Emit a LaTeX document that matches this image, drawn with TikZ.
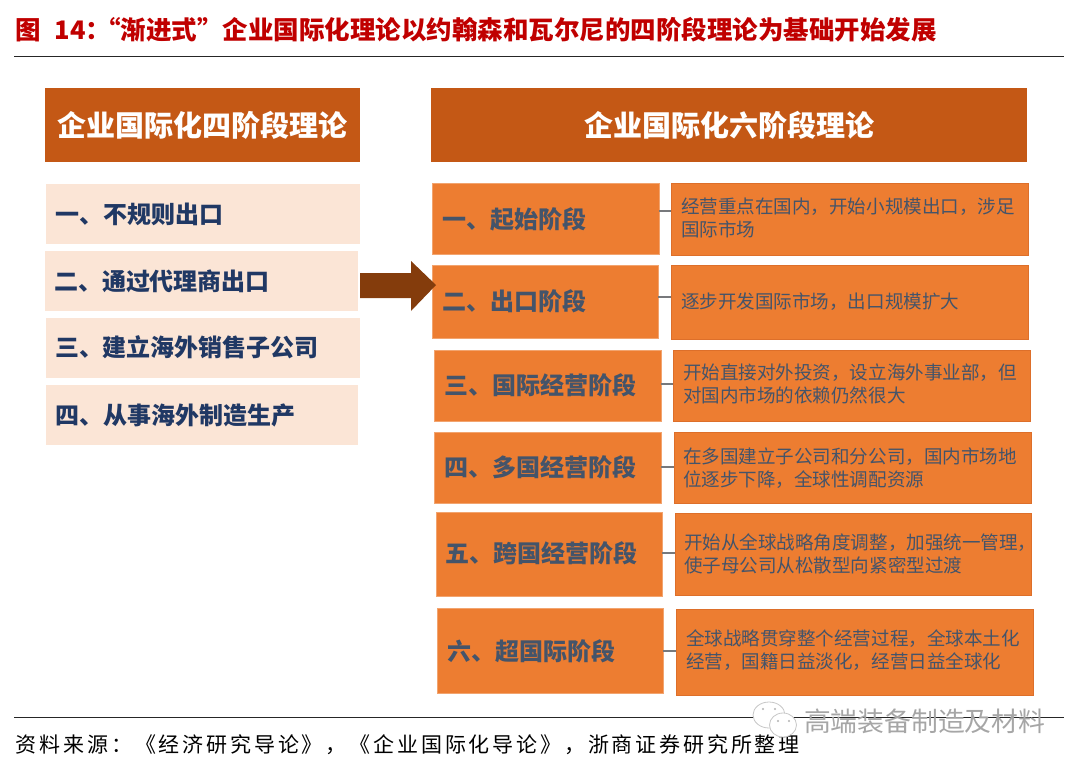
\documentclass[tikz,border=0pt]{standalone}
\usepackage{fontspec}
\setmainfont{Noto Sans CJK SC}
\newfontfamily\srcfont[LetterSpace=13.5]{Noto Sans CJK SC}
\definecolor{hdr}{HTML}{C45815}
\definecolor{stg}{HTML}{ED7D31}
\definecolor{edg}{HTML}{DD6F2A}
\definecolor{pale}{HTML}{FBE5D6}
\definecolor{navy}{HTML}{203864}
\definecolor{slate}{HTML}{44546A}
\definecolor{arrowc}{HTML}{843C0C}
\definecolor{ttl}{HTML}{C00000}
\newcommand{\fs}[1]{\fontsize{#1}{#1}\selectfont}
\newcommand{\bx}[7]{\node[#6,minimum width=#4-#2,minimum height=#5-#3] (#1) at ({(#2+#4)/2},{(#3+#5)/2}) {#7};}
\tikzset{
  x=1pt,y=-1pt,
  every node/.style={inner sep=0pt,outer sep=0pt},
  header/.style={fill=hdr,text=white,font=\fs{29}\bfseries},
  item/.style={fill=pale},
  stage/.style={fill=stg,draw=stg!70!white,line width=0.8pt},
  descbox/.style={fill=stg,draw=edg,line width=1pt},
  itemtext/.style={anchor=west,text=navy,font=\fs{24}\bfseries},
  stagetext/.style={anchor=west,text=slate,font=\fs{24}\bfseries},
  desctext/.style={anchor=west,align=left,text=slate,font=\fs{18.55}\selectfont},
  rulee/.style={draw=black!85,line width=1pt},
  link/.style={draw=gray!85!slate,line width=1.4pt},
  bubble/.style={draw=black!22,fill=white,line width=0.8pt},
}
\begin{document}
\begin{tikzpicture}
\useasboundingbox (0,0) rectangle (1080,769);
\node[anchor=west,text=ttl,font=\fs{25.5}\bfseries] (title) at (16,30) {图\hspace{13pt}14：\hspace{-16pt}“渐进式”企业国际化理论以约翰森和瓦尔尼的四阶段理论为基础开始发展};
\coordinate (r1a) at (14,56); \coordinate (r1b) at (1064,56);
\draw[rulee] (r1a) -- (r1b);
\bx{lh}{45}{88}{360}{162}{header}{企业国际化四阶段理论}
\bx{rh}{431}{88}{1027}{162}{header}{企业国际化六阶段理论}
\bx{i1}{46}{184}{360}{244}{item}{}
\bx{i2}{45}{251}{358}{311}{item}{}
\bx{i3}{46}{318}{360}{378}{item}{}
\bx{i4}{46}{385}{358}{445}{item}{}
\node[itemtext] (it1) at (56,214) {一、不规则出口};
\node[itemtext] (it2) at (54,281) {二、通过代理商出口};
\node[itemtext] (it3) at (55,347) {三、建立海外销售子公司};
\node[itemtext] (it4) at (56,415) {四、从事海外制造生产};
\bx{s1}{432}{183}{659}{254}{stage}{}
\bx{s2}{432}{265}{658}{338}{stage}{}
\bx{s3}{434}{350}{661}{421}{stage}{}
\bx{s4}{434}{432}{661}{503}{stage}{}
\bx{s5}{436}{512}{662}{596}{stage}{}
\bx{s6}{437}{608}{663}{693}{stage}{}
\bx{d1}{671}{183}{1028}{255}{descbox}{}
\bx{d2}{671}{265}{1028}{339}{descbox}{}
\bx{d3}{673}{350}{1030}{421}{descbox}{}
\bx{d4}{674}{432}{1031}{503}{descbox}{}
\bx{d5}{675}{513}{1031}{595}{descbox}{}
\bx{d6}{676}{609}{1033}{695}{descbox}{}
\foreach \n/\y in {1/211,2/297,3/384,4/467,5/553,6/651}{
  \coordinate (c\n) at (550,\y);
  \draw[link] (s\n.east|-c\n) -- (d\n.west|-c\n);
}
\node[stagetext] (st1) at (442,219) {一、起始阶段};
\node[stagetext] (st2) at (442,301) {二、出口阶段};
\node[stagetext] (st3) at (444,385) {三、国际经营阶段};
\node[stagetext] (st4) at (444,467) {四、多国经营阶段};
\node[stagetext] (st5) at (445,553) {五、跨国经营阶段};
\node[stagetext] (st6) at (447,651) {六、超国际阶段};
\node[desctext] (t1) at (681,218) {经营重点在国内，开始小规模出口，涉足\\[5pt]国际市场};
\node[desctext] (t2) at (681,302) {逐步开发国际市场，出口规模扩大};
\node[desctext] (t3) at (683,384) {开始直接对外投资，设立海外事业部，但\\[4pt]对国内市场的依赖仍然很大};
\node[desctext] (t4) at (683,468) {在多国建立子公司和分公司，国内市场地\\[4pt]位逐步下降，全球性调配资源};
\node[desctext] (t5) at (684,554) {开始从全球战略角度调整，加强统一管理，\\[4pt]使子母公司从松散型向紧密型过渡};
\node[desctext] (t6) at (686,650) {全球战略贯穿整个经营过程，全球本土化\\[4pt]经营，国籍日益淡化，经营日益全球化};
\fill[arrowc] (360,273) -- (411,273) -- (411,261) -- (436,285) -- (411,311) -- (411,298) -- (360,298) -- cycle;
\coordinate (r2a) at (14,717); \coordinate (r2b) at (1064,717);
\draw[rulee] (r2a) -- (r2b);
\node[anchor=west,text=black,font=\fs{21}\srcfont] (src) at (16,745) {资料来源：《经济研究导论》，《企业国际化导论》，浙商证券研究所整理};
\draw[bubble] (769,715) ellipse [x radius=16,y radius=13];
\draw[bubble] (783,725) ellipse [x radius=13.5,y radius=12];
\fill[black!30] (763,709) circle (1.2) (775,709) circle (1.2) (778,721) circle (1.2) (789,721) circle (1.2);
\node[anchor=west,text=black!35,font=\fs{26.8}\selectfont] (wm) at (804,721) {高端装备制造及材料};
\end{tikzpicture}
\end{document}
